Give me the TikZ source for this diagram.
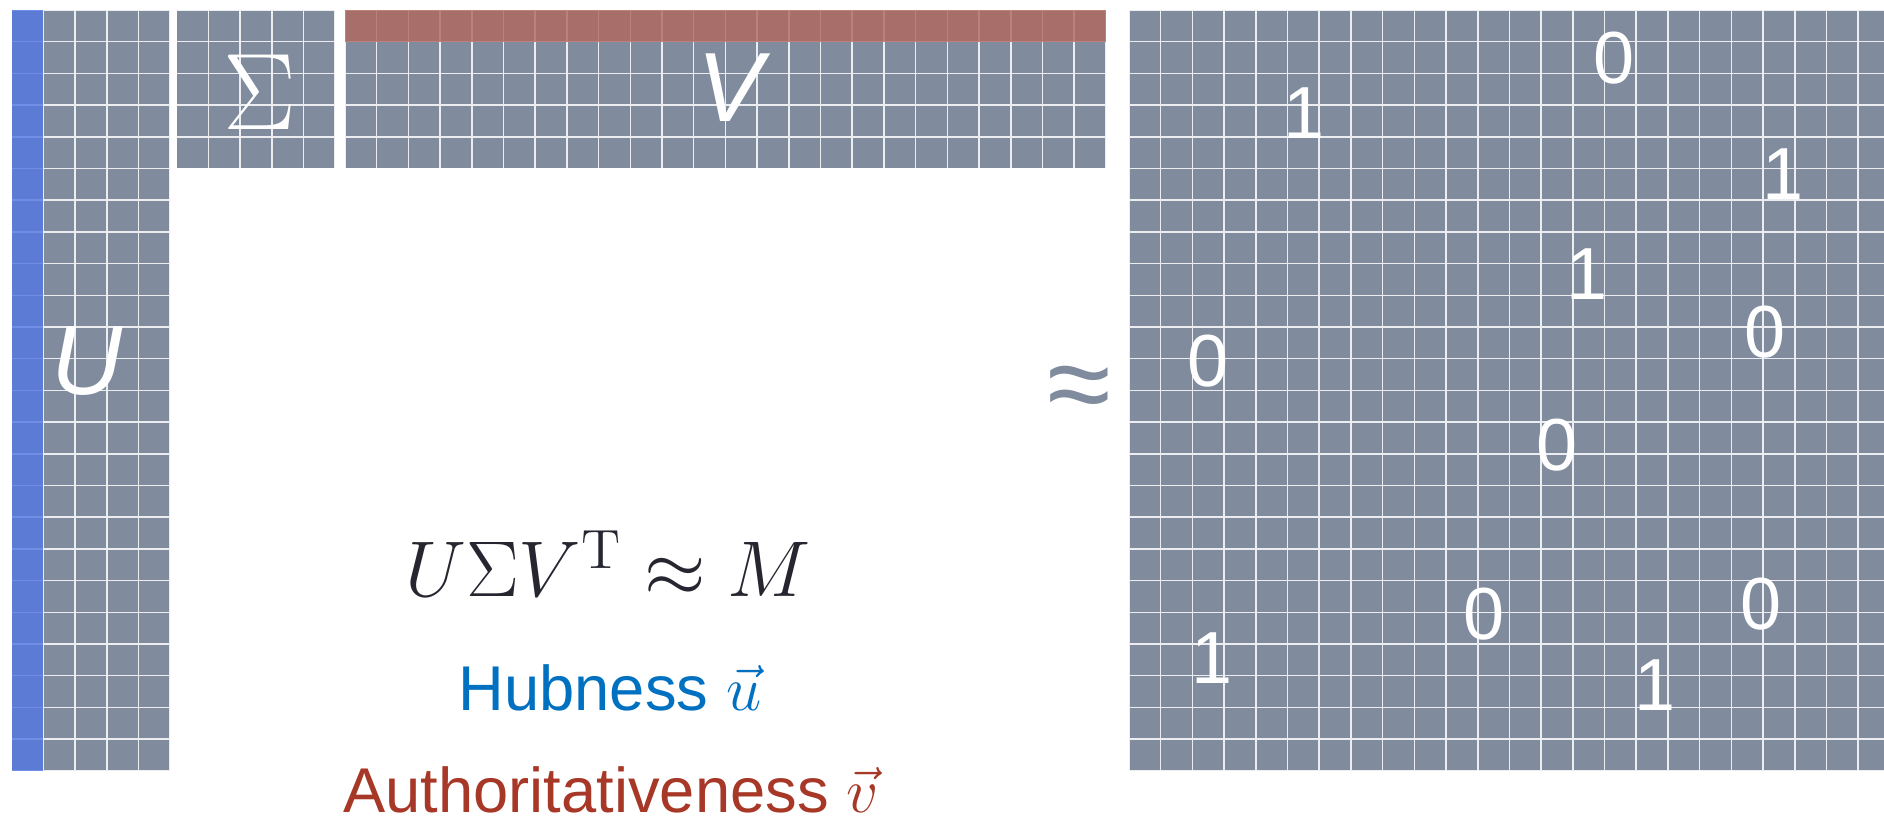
\documentclass[tikz,border=0pt]{standalone}
\usepackage{fix-cm}
\usepackage{amsmath}
\usepackage[no-math]{fontspec}
\setmainfont{Liberation Sans}
\usetikzlibrary{positioning}

\definecolor{matgray}{RGB}{128,140,158}
\definecolor{hubhl}{RGB}{82,119,227}
\definecolor{authhl}{RGB}{179,103,93}
\definecolor{eqdark}{RGB}{38,38,48}
\definecolor{hubblue}{RGB}{0,112,192}
\definecolor{authred}{RGB}{167,55,38}
\def\cw{0.317cm}

\begin{document}
\begin{tikzpicture}[
  mat/.style={fill=matgray, inner sep=0pt, outer sep=0pt, anchor=north west},
  grd/.style={draw=white, draw opacity=0.85, line width=0.45pt},
  big/.style={text=white, font=\fontsize{28}{32}\selectfont\itshape},
  num/.style={text=white, font=\fontsize{21}{24}\selectfont},
  eqn/.style={text=eqdark, font=\fontsize{22.5}{27}\selectfont, anchor=base, inner sep=0pt},
  captxt/.style={font=\fontsize{18}{22}\selectfont, anchor=base, inner sep=0pt},
]
\useasboundingbox (0,0) rectangle (18.84,-8.2);
\clip (0,0) rectangle (18.84,-8.2);

% matrices U, Sigma, V and M
\foreach \nm/\x/\c/\r in {U/0.117/5/24, S/1.767/5/5, V/3.45/24/5, M/11.29/24/24}{
  \node[mat, minimum width=\c*\cw, minimum height=\r*\cw] (\nm) at (\x,-0.1) {};
  \draw[grd, shift={(\nm.north west)}] (0,0) grid[step=\cw] ({\c*\cw+0.1pt},{-\r*\cw-0.1pt});
}
\fill[hubhl, fill opacity=0.8] (U.north west) rectangle ([xshift=\cw]U.south west);
\fill[authhl, fill opacity=0.8] (V.north west) rectangle ([yshift=-\cw]V.north east);

\node[big] (ulbl) at (0.87,-3.61) {U};
\node[text=white, font=\fontsize{31}{35}\selectfont] (slbl) at (2.60,-0.92) {$\Sigma$};
\node[big] (vlbl) at (7.30,-0.88) {V};
\node[text=matgray, font=\fontsize{33}{36}\selectfont] (apx) at (10.79,-3.95) {≈};

% entries of M
\foreach \x/\y/\v [count=\i] in {16.14/-0.585/0, 13.04/-1.13/1, 17.83/-1.74/1, 15.87/-2.74/1,
  17.65/-3.32/0, 12.08/-3.61/0, 15.57/-4.45/0, 14.84/-6.14/0, 17.61/-6.04/0,
  12.12/-6.58/1, 16.55/-6.85/1}{
  \node[num] (e\i) at (\x,\y) {\v};
}

\node[eqn] (eq) at (6.08,-5.97) {$U\Sigma V^{\mathrm{T}}\approx M$};
\node[captxt, text=hubblue] (hub) at (6.10,-7.10) {Hubness $\vec{u}$};
\node[captxt, text=authred] (auth) at (6.11,-8.12) {Authoritativeness $\vec{v}$};
\end{tikzpicture}
\end{document}
